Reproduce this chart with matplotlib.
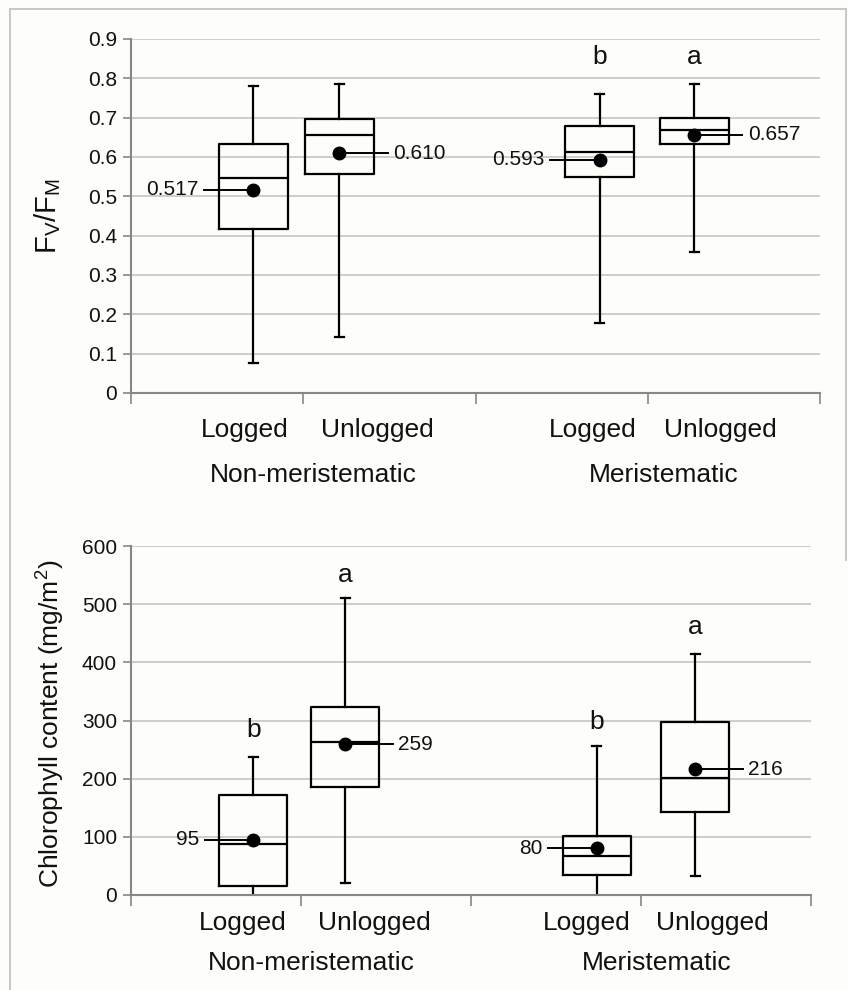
import numpy as np
import matplotlib.pyplot as plt
from matplotlib.lines import Line2D

plt.rcParams['font.family'] = ['Liberation Sans', 'DejaVu Sans']
plt.rcParams['mathtext.default'] = 'regular'

groups = ['Non-meristematic', 'Meristematic']
treatments = ['Logged', 'Unlogged', 'Logged', 'Unlogged']

# Fv/Fm (top panel)
fv_whislo = [0.077, 0.142, 0.177, 0.359]
fv_q1 = [0.416, 0.558, 0.548, 0.633]
fv_med = [0.546, 0.655, 0.612, 0.668]
fv_q3 = [0.633, 0.696, 0.680, 0.699]
fv_whishi = [0.781, 0.785, 0.761, 0.785]
fv_mean = [0.517, 0.610, 0.593, 0.657]
fv_mean_labels = ['0.517', '0.610', '0.593', '0.657']
fv_letters = ['', '', 'b', 'a']

# chlorophyll content (bottom panel)
chl_whislo = [0, 21, 0, 33]
chl_q1 = [16, 186, 35, 142]
chl_med = [87, 263, 67, 202]
chl_q3 = [172, 324, 102, 298]
chl_whishi = [237, 510, 256, 414]
chl_mean = [95, 259, 80, 216]
chl_mean_labels = ['95', '259', '80', '216']
chl_letters = ['b', 'a', 'b', 'a']

# layout
fv_pos = [0.71, 1.21, 2.72, 3.27]
chl_pos = [0.72, 1.26, 2.74, 3.32]
fv_letter_y = [0, 0, 0.855, 0.855]
chl_letter_y = [284, 551, 298, 460]
treat_x = [0.66, 1.43, 2.68, 3.42]
group_x = [1.06, 3.09]

spine_c = '#8a8684'
grid_c = '#cbc9c6'
txt_c = '#111111'
bg = '#fdfdfa'


def panel(ax, pos, whislo, q1, med, q3, whishi, mean, mean_labels,
          letters, letter_y, ymax, ystep, fmt, treat_y, group_y):
    stats = []
    for i in range(len(pos)):
        stats.append(dict(whislo=whislo[i], q1=q1[i], med=med[i],
                          q3=q3[i], whishi=whishi[i]))
    lp = dict(color='k', lw=1.6)
    bp = ax.bxp(stats, positions=pos, widths=0.4, capwidths=0.055,
                showfliers=False, boxprops=lp, medianprops=lp,
                whiskerprops=lp, capprops=lp, manage_ticks=False)
    for i in range(len(pos)):
        if whislo[i] == 0:
            bp['caps'][2 * i].set_visible(False)
    ax.plot(pos, mean, 'o', color='k', markersize=9, zorder=5)

    for i in range(len(pos)):
        if i % 2 == 0:
            ax.plot([pos[i] - 0.285, pos[i]], [mean[i], mean[i]], color='k', lw=1.4)
            ax.text(pos[i] - 0.32, mean[i], mean_labels[i], ha='right', va='center',
                    fontsize=15, color=txt_c)
        else:
            ax.plot([pos[i], pos[i] + 0.28], [mean[i], mean[i]], color='k', lw=1.4)
            ax.text(pos[i] + 0.31, mean[i], mean_labels[i], ha='left', va='center',
                    fontsize=15, color=txt_c)
        if letters[i]:
            ax.text(pos[i], letter_y[i], letters[i], ha='center', va='center',
                    fontsize=19, color=txt_c)

    ax.set_xlim(0, 4)
    ax.set_ylim(0, ymax)
    ax.set_xticks([0, 1, 2, 3, 4])
    ax.set_xticklabels([])
    ticks = np.arange(0, ymax + ystep / 2, ystep)
    ax.set_yticks(ticks)
    ax.set_yticklabels(['0'] + [fmt.format(t) for t in ticks[1:]])
    ax.tick_params(axis='y', length=6, width=1.2, color=spine_c, pad=4,
                   labelsize=15, labelcolor=txt_c)
    ax.tick_params(axis='x', length=8, width=1.2, color=spine_c)
    ax.yaxis.grid(True, color=grid_c, lw=1.3)
    ax.set_axisbelow(True)
    for s in ['top', 'right']:
        ax.spines[s].set_visible(False)
    for s in ['left', 'bottom']:
        ax.spines[s].set_color(spine_c)
        ax.spines[s].set_linewidth(1.5)
    ax.set_facecolor(bg)

    tr = ax.get_xaxis_transform()
    for x, t in zip(treat_x, treatments):
        ax.text(x, treat_y, t, transform=tr, ha='center', va='baseline',
                fontsize=19, color=txt_c)
    for x, g in zip(group_x, groups):
        ax.text(x, group_y, g, transform=tr, ha='center', va='baseline',
                fontsize=19, color=txt_c)


fig = plt.figure(figsize=(8.48, 9.9), dpi=100, facecolor=bg)
ax1 = fig.add_axes([131 / 848, 1 - 393 / 990, (820 - 131) / 848, (393 - 39) / 990])
ax2 = fig.add_axes([131 / 848, 1 - 895 / 990, (811 - 131) / 848, (895 - 546) / 990])

panel(ax1, fv_pos, fv_whislo, fv_q1, fv_med, fv_q3, fv_whishi, fv_mean,
      fv_mean_labels, fv_letters, fv_letter_y, 0.9, 0.1, '{:.1f}', -0.124, -0.251)
panel(ax2, chl_pos, chl_whislo, chl_q1, chl_med, chl_q3, chl_whishi, chl_mean,
      chl_mean_labels, chl_letters, chl_letter_y, 600, 100, '{:.0f}', -0.100, -0.215)

ax1.set_ylabel('F$_V$/F$_M$', fontsize=21, color=txt_c)
ax1.yaxis.set_label_coords(-0.098, 0.5)
ax2.set_ylabel('Chlorophyll content (mg/m$^2$)', fontsize=19, color=txt_c)
ax2.yaxis.set_label_coords(-0.094, 0.49)

# light frame around the figure
bc = '#c4c4c4'
fig.add_artist(Line2D([10 / 848, 10 / 848], [0, 1 - 9 / 990], transform=fig.transFigure, color=bc, lw=1.3))
fig.add_artist(Line2D([10 / 848, 846 / 848], [1 - 9 / 990, 1 - 9 / 990], transform=fig.transFigure, color=bc, lw=1.3))
fig.add_artist(Line2D([846 / 848, 846 / 848], [1 - 560 / 990, 1 - 9 / 990], transform=fig.transFigure, color=bc, lw=1.3))

fig.savefig('out.png', dpi=100, facecolor=fig.get_facecolor())
